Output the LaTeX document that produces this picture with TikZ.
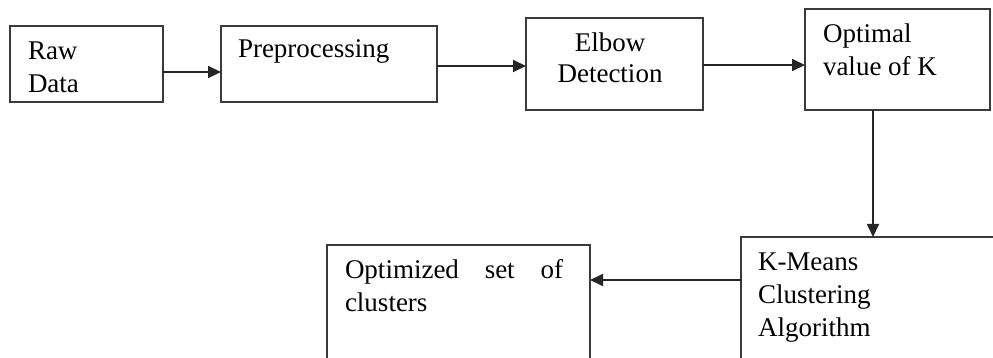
\documentclass[tikz,border=0pt]{standalone}
\usepackage{fontspec}
\setmainfont{Liberation Serif}
\usetikzlibrary{arrows.meta}
\definecolor{boxline}{HTML}{3A3A3A}
\tikzset{
  stepbox/.style={draw=boxline, line width=1.8pt, inner sep=0pt, outer sep=0pt},
  arr/.style={draw=black!85, line width=1.8pt, -{Triangle[length=13pt,width=12pt]}},
  txt/.style={inner sep=0pt, outer sep=0pt, anchor=base west, font=\fontsize{27}{33}\selectfont},
  ctxt/.style={txt, anchor=base}
}
\begin{document}
\begin{tikzpicture}[x=1pt,y=-1pt]
\clip (0,0) rectangle (993,358);
\fill[white] (0,0) rectangle (993,358);
% boxes
\node[stepbox, minimum width=153pt, minimum height=76pt] (raw) at (86.5,64) {};
\node[stepbox, minimum width=216pt, minimum height=76pt] (pre) at (329,64) {};
\node[stepbox, minimum width=177pt, minimum height=92pt] (elb) at (614.5,64) {};
\node[stepbox, minimum width=185pt, minimum height=101pt] (opt) at (897.5,59.5) {};
\node[stepbox, minimum width=264pt, minimum height=133pt] (km) at (873,303.5) {};
\node[stepbox, minimum width=263pt, minimum height=125pt] (clu) at (458.5,307.5) {};
% texts
\node[txt] (t1) at (28,60) {Raw};
\node[txt] (t2) at (28,93) {Data};
\node[txt] (t3) at (238,58) {Preprocessing};
\node[ctxt] (t4) at (610,52) {Elbow};
\node[ctxt] (t5) at (610,83) {Detection};
\node[txt] (t6) at (823,43) {Optimal};
\node[txt] (t7) at (823,76) {value of K};
\node[txt] (t8) at (758,270) {K-Means};
\node[txt] (t9) at (758,303) {Clustering};
\node[txt] (t10) at (758,336) {Algorithm};
\node[txt] (t11) at (345,278) {\makebox[218pt][s]{Optimized set of}};
\node[txt] (t12) at (345,311) {clusters};
% connectors
\draw[arr] ([yshift=-8pt]raw.east) -- ([yshift=-8pt]pre.west);
\draw[arr] ([yshift=-2pt]pre.east) -- ([yshift=-2pt]elb.west);
\draw[arr] ([yshift=-1pt]elb.east) -- ([yshift=-1pt]elb.east -| opt.west);
\draw[arr] (opt.south -| km.north) -- (km.north);
\draw[arr] ([yshift=23.5pt]km.west) -- ([yshift=23.5pt]km.west -| clu.east);
\end{tikzpicture}
\end{document}
